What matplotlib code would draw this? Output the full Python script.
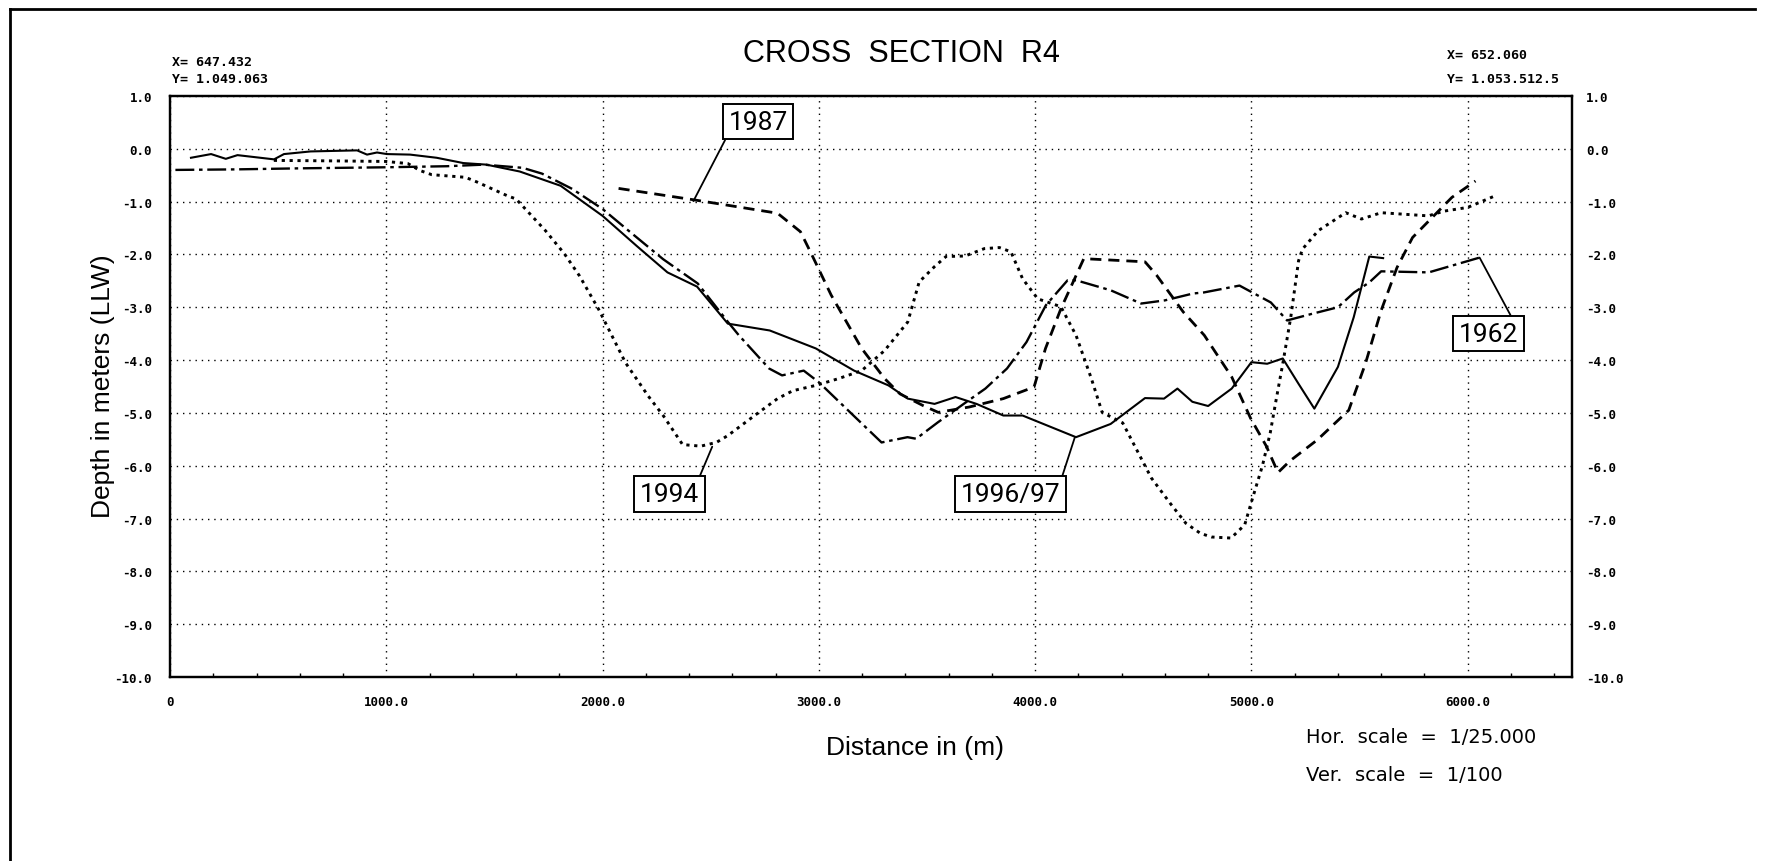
import matplotlib
matplotlib.use("Agg")
import matplotlib.pyplot as plt
from matplotlib.lines import Line2D
from matplotlib.ticker import MultipleLocator

# perfis (distancia em m, profundidade em m LLW)
x_1962 = [25, 300, 600, 1000, 1280, 1450, 1630, 1720, 1860, 2000, 2120, 2280, 2440,
          2580, 2630, 2770, 2830, 2930, 3000, 3160, 3290, 3410, 3450, 3550, 3680, 3770,
          3870, 3960, 4050, 4150, 4190, 4350, 4490, 4600, 4730, 4780, 4945, 5090, 5165,
          5275, 5400, 5475, 5545, 5600, 5820, 6055]
y_1962 = [-0.40, -0.39, -0.37, -0.35, -0.33, -0.30, -0.36, -0.47, -0.76, -1.14, -1.55,
          -2.09, -2.55, -3.28, -3.53, -4.16, -4.29, -4.20, -4.42, -5.05, -5.56, -5.46,
          -5.49, -5.18, -4.80, -4.54, -4.16, -3.66, -2.96, -2.49, -2.49, -2.68, -2.93,
          -2.87, -2.74, -2.72, -2.59, -2.91, -3.25, -3.13, -3.00, -2.72, -2.53, -2.32,
          -2.34, -2.06]

x_1987 = [2074, 2428, 2809, 2915, 2968, 3057, 3198, 3304, 3375, 3481, 3552, 3694, 3853,
          3995, 4048, 4119, 4225, 4508, 4561, 4685, 4782, 4909, 4996, 5069, 5123, 5178,
          5305, 5450, 5527, 5600, 5673, 5745, 5836, 5927, 6036]
y_1987 = [-0.75, -0.97, -1.22, -1.57, -2.01, -2.77, -3.78, -4.35, -4.64, -4.86, -4.99,
          -4.89, -4.73, -4.51, -3.78, -3.03, -2.08, -2.14, -2.39, -3.09, -3.53, -4.32,
          -5.10, -5.63, -6.13, -5.91, -5.51, -4.95, -4.07, -3.06, -2.25, -1.68, -1.30,
          -0.92, -0.61]

x_1994 = [480, 780, 1000, 1100, 1155, 1210, 1366, 1420, 1560, 1600, 1650, 1736, 1824,
          1894, 1982, 2106, 2211, 2282, 2370, 2454, 2526, 2579, 2703, 2809, 2880, 2986,
          3092, 3198, 3304, 3411, 3464, 3535, 3588, 3676, 3765, 3835, 3888, 3942, 4012,
          4119, 4189, 4260, 4310, 4405, 4466, 4537, 4626, 4697, 4764, 4815, 4906, 4969,
          5005, 5051, 5087, 5114, 5145, 5182, 5218, 5236, 5309, 5436, 5509, 5600, 5818,
          5891, 6000, 6127]
y_1994 = [-0.22, -0.23, -0.24, -0.28, -0.41, -0.49, -0.54, -0.63, -0.89, -0.95, -1.17,
          -1.55, -1.99, -2.41, -3.04, -4.05, -4.68, -5.06, -5.60, -5.63, -5.56, -5.43,
          -5.05, -4.73, -4.58, -4.48, -4.35, -4.20, -3.82, -3.28, -2.52, -2.23, -2.04,
          -2.03, -1.89, -1.87, -1.95, -2.46, -2.84, -2.99, -3.53, -4.35, -4.99, -5.19,
          -5.67, -6.23, -6.72, -7.09, -7.28, -7.35, -7.37, -7.12, -6.62, -6.00, -5.38,
          -4.76, -4.07, -3.19, -2.12, -1.90, -1.55, -1.21, -1.33, -1.21, -1.27, -1.18,
          -1.11, -0.89]

x_1996 = [97, 190, 258, 312, 481, 527, 650, 865, 911, 957, 1003, 1110, 1233, 1356, 1463,
          1617, 1806, 2000, 2158, 2300, 2437, 2579, 2773, 2986, 3163, 3322, 3411, 3535,
          3632, 3729, 3853, 3942, 4189, 4349, 4508, 4596, 4658, 4727, 4800, 4909, 5000,
          5073, 5145, 5218, 5291, 5400, 5473, 5545, 5609]
y_1996 = [-0.17, -0.10, -0.19, -0.12, -0.20, -0.10, -0.05, -0.03, -0.11, -0.07, -0.10,
          -0.11, -0.17, -0.27, -0.30, -0.43, -0.70, -1.27, -1.84, -2.34, -2.61, -3.31,
          -3.44, -3.78, -4.20, -4.48, -4.73, -4.83, -4.70, -4.83, -5.05, -5.05, -5.46,
          -5.21, -4.72, -4.73, -4.54, -4.79, -4.87, -4.54, -4.04, -4.07, -3.97, -4.45,
          -4.92, -4.13, -3.19, -2.04, -2.07]

# rotulos das campanhas: texto, ponto na curva, centro da caixa, canto de saida da linha
labels = ["1962", "1987", "1994", "1996/97"]
label_point = [(6055, -2.06), (2420, -0.99), (2507, -5.64), (4183, -5.47)]
label_box = [(6096, -3.50), (2719, 0.515), (2309, -6.54), (3886, -6.54)]
label_relpos = [(0.93, 1.0), (0.0, 0.0), (0.97, 1.0), (1.0, 1.0)]

x_ticks = [0, 1000, 2000, 3000, 4000, 5000, 6000]
x_ticklabels = ["0", "1000.0", "2000.0", "3000.0", "4000.0", "5000.0", "6000.0"]
y_ticks = [1, 0, -1, -2, -3, -4, -5, -6, -7, -8, -9, -10]
y_ticklabels = ["1.0", "0.0", "-1.0", "-2.0", "-3.0", "-4.0", "-5.0", "-6.0",
                "-7.0", "-8.0", "-9.0", "-10.0"]

mono = "DejaVu Sans Mono"
sans = "Liberation Sans"

fig = plt.figure(figsize=(17.69, 8.62), dpi=100)
ax = fig.add_axes([0.0961, 0.2135, 0.7925, 0.6740])

ax.plot(x_1962, y_1962, color="black", lw=1.7, linestyle=(0, (8, 2, 1.5, 2)))
ax.plot(x_1987, y_1987, color="black", lw=2.0, linestyle=(0, (4, 2.5)))
ax.plot(x_1994, y_1994, color="black", lw=2.1, linestyle=(0, (1.1, 1.6)))
ax.plot(x_1996, y_1996, color="black", lw=1.5, linestyle="-")

ax.set_xlim(0, 6482)
ax.set_ylim(-10, 1)

ax.set_xticks(x_ticks)
ax.set_xticklabels(x_ticklabels, fontfamily=mono, fontweight="bold", fontsize=9)
ax.set_yticks(y_ticks)
ax.set_yticklabels(y_ticklabels, fontfamily=mono, fontweight="bold", fontsize=9)
ax.xaxis.set_minor_locator(MultipleLocator(200))
ax.tick_params(axis="x", which="major", length=0, pad=13)
ax.tick_params(axis="x", which="minor", length=3, direction="in", width=1)
ax.tick_params(axis="y", which="major", length=0, pad=13)

ax2 = ax.twinx()
ax2.set_ylim(-10, 1)
ax2.set_yticks(y_ticks)
ax2.set_yticklabels(y_ticklabels, fontfamily=mono, fontweight="bold", fontsize=9)
ax2.tick_params(axis="y", length=0, pad=10)

ax.grid(True, color="black", lw=1.0, linestyle=(0, (1, 3.5)))
for a in (ax, ax2):
    for s in a.spines.values():
        s.set_linewidth(1.6)

for text, pt, box, rp in zip(labels, label_point, label_box, label_relpos):
    ax.annotate(text, xy=pt, xytext=box, ha="center", va="center",
                fontsize=19, fontfamily="Roboto", color="black",
                bbox=dict(boxstyle="square,pad=0.22", fc="white", ec="black", lw=1.4),
                arrowprops=dict(arrowstyle="-", color="black", lw=1.3,
                                relpos=rp, shrinkA=0, shrinkB=0))

# textos soltos da folha
fig.text(0.5093, 0.9374, "CROSS  SECTION  R4", ha="center", va="center",
         fontsize=22, fontfamily=sans)
fig.text(0.0972, 0.928, "X= 647.432", ha="left", va="center",
         fontsize=9.5, fontfamily=mono, fontweight="bold")
fig.text(0.0972, 0.9072, "Y= 1.049.063", ha="left", va="center",
         fontsize=9.5, fontfamily=mono, fontweight="bold")
fig.text(0.818, 0.936, "X= 652.060", ha="left", va="center",
         fontsize=9.5, fontfamily=mono, fontweight="bold")
fig.text(0.818, 0.908, "Y= 1.053.512.5", ha="left", va="center",
         fontsize=9.5, fontfamily=mono, fontweight="bold")
fig.text(0.0582, 0.5522, "Depth in meters (LLW)", rotation=90, ha="center",
         va="center", fontsize=19, fontfamily=sans)
fig.text(0.5172, 0.1323, "Distance in (m)", ha="center", va="center",
         fontsize=19, fontfamily=sans)
fig.text(0.7383, 0.1439, "Hor.  scale  =  1/25.000", ha="left", va="center",
         fontsize=14, fontfamily="DejaVu Sans")
fig.text(0.7383, 0.0998, "Ver.  scale  =  1/100", ha="left", va="center",
         fontsize=14, fontfamily="DejaVu Sans")

# moldura da folha (apenas topo e esquerda aparecem)
fig.add_artist(Line2D([0.0057, 0.992], [0.988, 0.988], color="black", lw=2.0,
                      transform=fig.transFigure))
fig.add_artist(Line2D([0.0057, 0.0057], [0.0, 0.988], color="black", lw=2.0,
                      transform=fig.transFigure))

fig.savefig("out.png", dpi=100)
